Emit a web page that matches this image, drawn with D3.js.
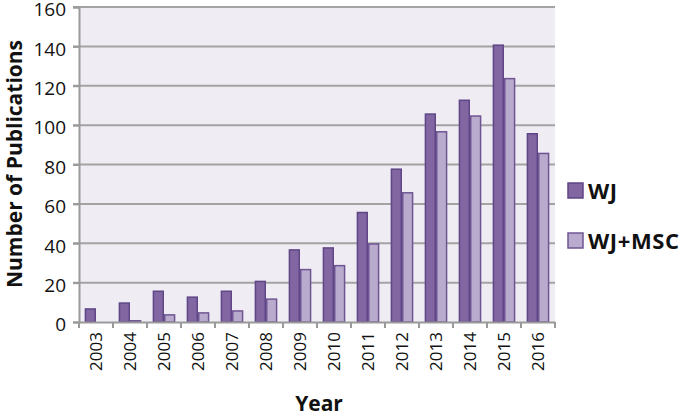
<!DOCTYPE html>
<html>
<head>
<meta charset="utf-8">
<script src="https://cdn.jsdelivr.net/npm/d3@7"></script>
<style>
  body { margin: 0; background: #fff; }
  svg { display: block; font-family: "Open Sans", Lato, sans-serif; }
</style>
</head>
<body>
<div class="chart"></div>
<script>
// Data ----------------------------------------------------------------------
const years = ["2003", "2004", "2005", "2006", "2007", "2008", "2009", "2010",
               "2011", "2012", "2013", "2014", "2015", "2016"];
const wj    = [7, 10, 16, 13, 16, 21, 37, 38, 56, 78, 106, 113, 141, 96];
const wjMsc = [0, 1, 4, 5, 6, 12, 27, 29, 40, 66, 97, 105, 124, 86];
const seriesNames = ["WJ", "WJ+MSC"];
const yTicks = [0, 20, 40, 60, 80, 100, 120, 140, 160];

// Dimensions ----------------------------------------------------------------
const width = 685, height = 416;
const plot = {left: 79, right: 555, top: 7, bottom: 322};

const svg = d3.select(".chart").append("svg")
  .attr("width", width)
  .attr("height", height);

// Scales
const x = d3.scaleBand()
  .domain(years)
  .range([plot.left, plot.right]);

const xInner = d3.scaleBand()
  .domain(seriesNames)
  .range([0, x.bandwidth()])
  .paddingOuter(0.5);

const y = d3.scaleLinear()
  .domain([0, 160])
  .range([plot.bottom, plot.top]);

const color = d3.scaleOrdinal()
  .domain(seriesNames)
  .range(["#8166a1", "#b8abcd"]);
const strokeColor = d3.scaleOrdinal()
  .domain(seriesNames)
  .range(["#5f4686", "#6f5593"]);

// Plot background
svg.append("rect")
  .attr("x", plot.left)
  .attr("y", plot.top)
  .attr("width", plot.right - plot.left)
  .attr("height", plot.bottom - plot.top)
  .attr("fill", "#efecf3");

// Gridlines
svg.append("g")
  .selectAll("line")
  .data(yTicks.filter(d => d > 0))
  .join("line")
  .attr("x1", plot.left - 6)
  .attr("x2", plot.right)
  .attr("y1", d => y(d))
  .attr("y2", d => y(d))
  .attr("stroke", "#a3a3a3")
  .attr("stroke-width", 2);

// Bars ----------------------------------------------------------------------
const rows = years.map((yr, i) => ({year: yr, values: [
  {name: "WJ", value: wj[i]},
  {name: "WJ+MSC", value: wjMsc[i]}
]}));

svg.append("g")
  .selectAll("g")
  .data(rows)
  .join("g")
  .attr("transform", d => `translate(${x(d.year)},0)`)
  .selectAll("rect")
  .data(d => d.values.filter(v => v.value > 0))
  .join("rect")
  .attr("x", d => xInner(d.name) + 0.75)
  .attr("width", xInner.bandwidth() - 1.5)
  .attr("y", d => y(d.value) + 0.75)
  .attr("height", d => y(0) - y(d.value) - 0.75)
  .attr("fill", d => color(d.name))
  .attr("stroke", d => strokeColor(d.name))
  .attr("stroke-width", 1.5);

// Axes ----------------------------------------------------------------------
// Y axis
const yAxis = svg.append("g")
  .attr("transform", `translate(${plot.left},0)`)
  .call(d3.axisLeft(y).tickValues(yTicks).tickSize(6).tickPadding(7));
yAxis.select(".domain")
  .attr("stroke", "#9a9a9a")
  .attr("stroke-width", 2);
yAxis.selectAll(".tick line")
  .attr("stroke", "#9a9a9a")
  .attr("stroke-width", 2);
yAxis.selectAll(".tick text")
  .attr("font-size", 19)
  .attr("dy", "0.46em")
  .attr("fill", "#111")
  .attr("font-family", "Open Sans, sans-serif");

// X axis
const xAxis = svg.append("g")
  .attr("transform", `translate(0,${plot.bottom})`)
  .call(d3.axisBottom(x).tickSize(0).tickPadding(0));
xAxis.select(".domain")
  .attr("stroke", "#9a9a9a")
  .attr("stroke-width", 2);
xAxis.selectAll(".tick text")
  .attr("font-size", 17)
  .attr("fill", "#111")
  .attr("font-family", "Open Sans, sans-serif")
  .attr("text-anchor", "end")
  .attr("transform", "translate(6,10) rotate(-90)")
  .attr("dy", 0)
  .attr("x", 0)
  .attr("y", 0);

// Category boundary ticks
svg.append("g")
  .selectAll("line")
  .data(years.concat(["end"]))
  .join("line")
  .attr("x1", (d, i) => plot.left + i * x.step())
  .attr("x2", (d, i) => plot.left + i * x.step())
  .attr("y1", plot.bottom)
  .attr("y2", plot.bottom + 6)
  .attr("stroke", "#9a9a9a")
  .attr("stroke-width", 2);

// Axis titles
svg.append("text")
  .attr("transform", "translate(22,164) rotate(-90)")
  .attr("text-anchor", "middle")
  .attr("font-size", 21)
  .attr("font-weight", "bold")
  .attr("fill", "#111")
  .text("Number of Publications");

svg.append("text")
  .attr("x", (plot.left + plot.right) / 2 + 2)
  .attr("y", 411)
  .attr("text-anchor", "middle")
  .attr("font-size", 21)
  .attr("font-weight", "bold")
  .attr("fill", "#111")
  .text("Year");

// Legend --------------------------------------------------------------------
const legend = svg.append("g")
  .selectAll("g")
  .data(seriesNames)
  .join("g")
  .attr("transform", (d, i) => `translate(568,${183 + i * 50})`);

legend.append("rect")
  .attr("width", 15)
  .attr("height", 15)
  .attr("fill", d => color(d))
  .attr("stroke", d => strokeColor(d))
  .attr("stroke-width", 1.5);

legend.append("text")
  .attr("x", 20)
  .attr("y", 16)
  .attr("font-size", 22)
  .attr("font-weight", "bold")
  .attr("letter-spacing", 0.6)
  .attr("fill", "#111")
  .text(d => d);
</script>
</body>
</html>
